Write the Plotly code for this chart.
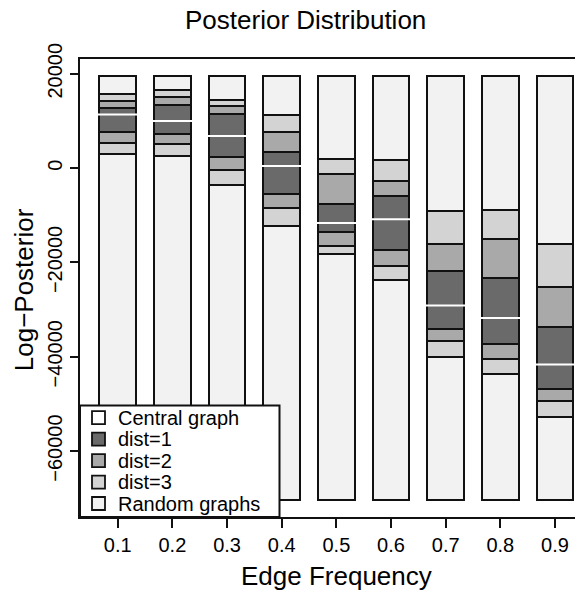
import plotly.graph_objects as go

# ---------------- data ----------------
edge_freq = [0.1, 0.2, 0.3, 0.4, 0.5, 0.6, 0.7, 0.8, 0.9]
x_tick_labels = ["0.1", "0.2", "0.3", "0.4", "0.5", "0.6", "0.7", "0.8", "0.9"]

post_min = [-70400, -70400, -70400, -70400, -70400, -70400, -70400, -70400, -70400]
d3_low = [2900, 2630, -3600, -12280, -18130, -23790, -40030, -43630, -52870]
d2_low = [5380, 5020, -340, -8390, -16580, -20760, -36560, -40520, -49480]
d1_low = [7560, 7290, 2330, -5570, -13620, -17280, -34160, -37340, -46940]
central = [11370, 9960, 6780, 420, -11650, -10870, -29140, -31770, -41640]
d1_high = [12790, 13340, 11370, 3330, -7540, -5930, -21730, -23210, -33680]
d2_high = [14190, 15040, 13070, 7710, -1270, -2820, -16100, -15100, -25270]
d3_high = [15760, 16610, 14490, 11160, 1840, 1630, -9170, -8810, -16100]
post_max = [19600, 19600, 19600, 19600, 19600, 19600, 19600, 19600, 19600]

y_tick_vals = [-60000, -40000, -20000, 0, 20000]
y_tick_labels = ["\u221260000", "\u221240000", "\u221220000", "0", "20000"]

legend_labels = ["Central graph", "dist=1", "dist=2", "dist=3", "Random graphs"]
legend_colors = ["#ffffff", "#6a6a6a", "#a9a9a9", "#d3d3d3", "#f2f2f2"]

# ---------------- figure ----------------
C_D1, C_D2, C_D3, C_RND = legend_colors[1], legend_colors[2], legend_colors[3], legend_colors[4]
FONT = "Liberation Sans, Arial, Helvetica, sans-serif"
EDGE = "#111111"

segments = [
    (post_min, d3_low, C_RND),
    (d3_low, d2_low, C_D3),
    (d2_low, d1_low, C_D2),
    (d1_low, d1_high, C_D1),
    (d1_high, d2_high, C_D2),
    (d2_high, d3_high, C_D3),
    (d3_high, post_max, C_RND),
]

fig = go.Figure()
for lo, hi, col in segments:
    fig.add_trace(go.Bar(
        x=edge_freq,
        y=[h - l for l, h in zip(lo, hi)],
        base=lo,
        width=0.067,
        marker=dict(color=col, line=dict(color=EDGE, width=2)),
        showlegend=False,
        hoverinfo="skip",
    ))

fig.add_trace(go.Scatter(
    x=edge_freq, y=central, mode="markers",
    marker=dict(symbol="line-ew", size=39, color="white",
                line=dict(color="white", width=2)),
    showlegend=False, hoverinfo="skip",
))

# the page body adds an 8px offset; positions below are reference pixels
OFF = 8
W, H = 583 - OFF, 592 - OFF
PLOT_L, PLOT_T, PLOT_B = 80, 58.5, 517   # reference pixels
L = PLOT_L - OFF
T = PLOT_T - OFF
B = H - (PLOT_B - OFF)
R = 0
pw, ph = W - L - R, H - T - B


def px(xp):
    return (xp - OFF - L) / pw


def py(yp):
    return (H - B - (yp - OFF)) / ph


shapes = []
annotations = []

# legend box
shapes.append(dict(type="rect", xref="paper", yref="paper",
                   x0=px(80), x1=px(279.5), y0=py(517), y1=py(405.5),
                   line=dict(color=EDGE, width=2), fillcolor="white", layer="above"))
row_y = [417.5, 439, 460.5, 482, 503.5]
for lab, col, yy in zip(legend_labels, legend_colors, row_y):
    shapes.append(dict(type="rect", xref="paper", yref="paper",
                       x0=px(92), x1=px(105), y0=py(yy + 6.5), y1=py(yy - 6.5),
                       line=dict(color=EDGE, width=1.8), fillcolor=col, layer="above"))
    annotations.append(dict(text=lab, xref="paper", yref="paper",
                            x=px(116), y=py(yy), xanchor="left", yanchor="middle",
                            showarrow=False, font=dict(size=20, family=FONT, color="black")))

# titles
annotations.append(dict(text="Posterior Distribution", xref="paper", yref="paper",
                        x=px(305), y=py(19), xanchor="center", yanchor="middle",
                        showarrow=False, font=dict(size=26, family=FONT, color="black")))
annotations.append(dict(text="Edge Frequency", xref="paper", yref="paper",
                        x=px(336.5), y=py(576), xanchor="center", yanchor="middle",
                        showarrow=False, font=dict(size=26, family=FONT, color="black")))
annotations.append(dict(text="Log\u2212Posterior", xref="paper", yref="paper",
                        x=px(24), y=py(290), xanchor="center", yanchor="middle",
                        textangle=-90,
                        showarrow=False, font=dict(size=26, family=FONT, color="black")))

fig.update_layout(
    width=W, height=H,
    margin=dict(l=L, r=R, t=T, b=B, pad=0),
    paper_bgcolor="white", plot_bgcolor="white",
    barmode="overlay",
    bargap=0,
    showlegend=False,
    font=dict(family=FONT, color="black", size=20),
    shapes=shapes,
    annotations=annotations,
    xaxis=dict(
        range=[0.0310, 0.9512],
        tickvals=edge_freq, ticktext=x_tick_labels,
        showline=True, linecolor=EDGE, linewidth=2, mirror=True,
        ticks="outside", ticklen=9, tickwidth=1.8, tickcolor=EDGE,
        showgrid=False, zeroline=False,
        tickfont=dict(size=20, family=FONT, color="black"),
    ),
    yaxis=dict(
        range=[-73980, 23130],
        tickvals=y_tick_vals, ticktext=y_tick_labels,
        tickangle=-90,
        showline=True, linecolor=EDGE, linewidth=2, mirror=False,
        ticks="outside", ticklen=8, tickwidth=1.8, tickcolor=EDGE,
        showgrid=False, zeroline=False,
        tickfont=dict(size=20, family=FONT, color="black"),
    ),
)

fig.write_html("out.html")
